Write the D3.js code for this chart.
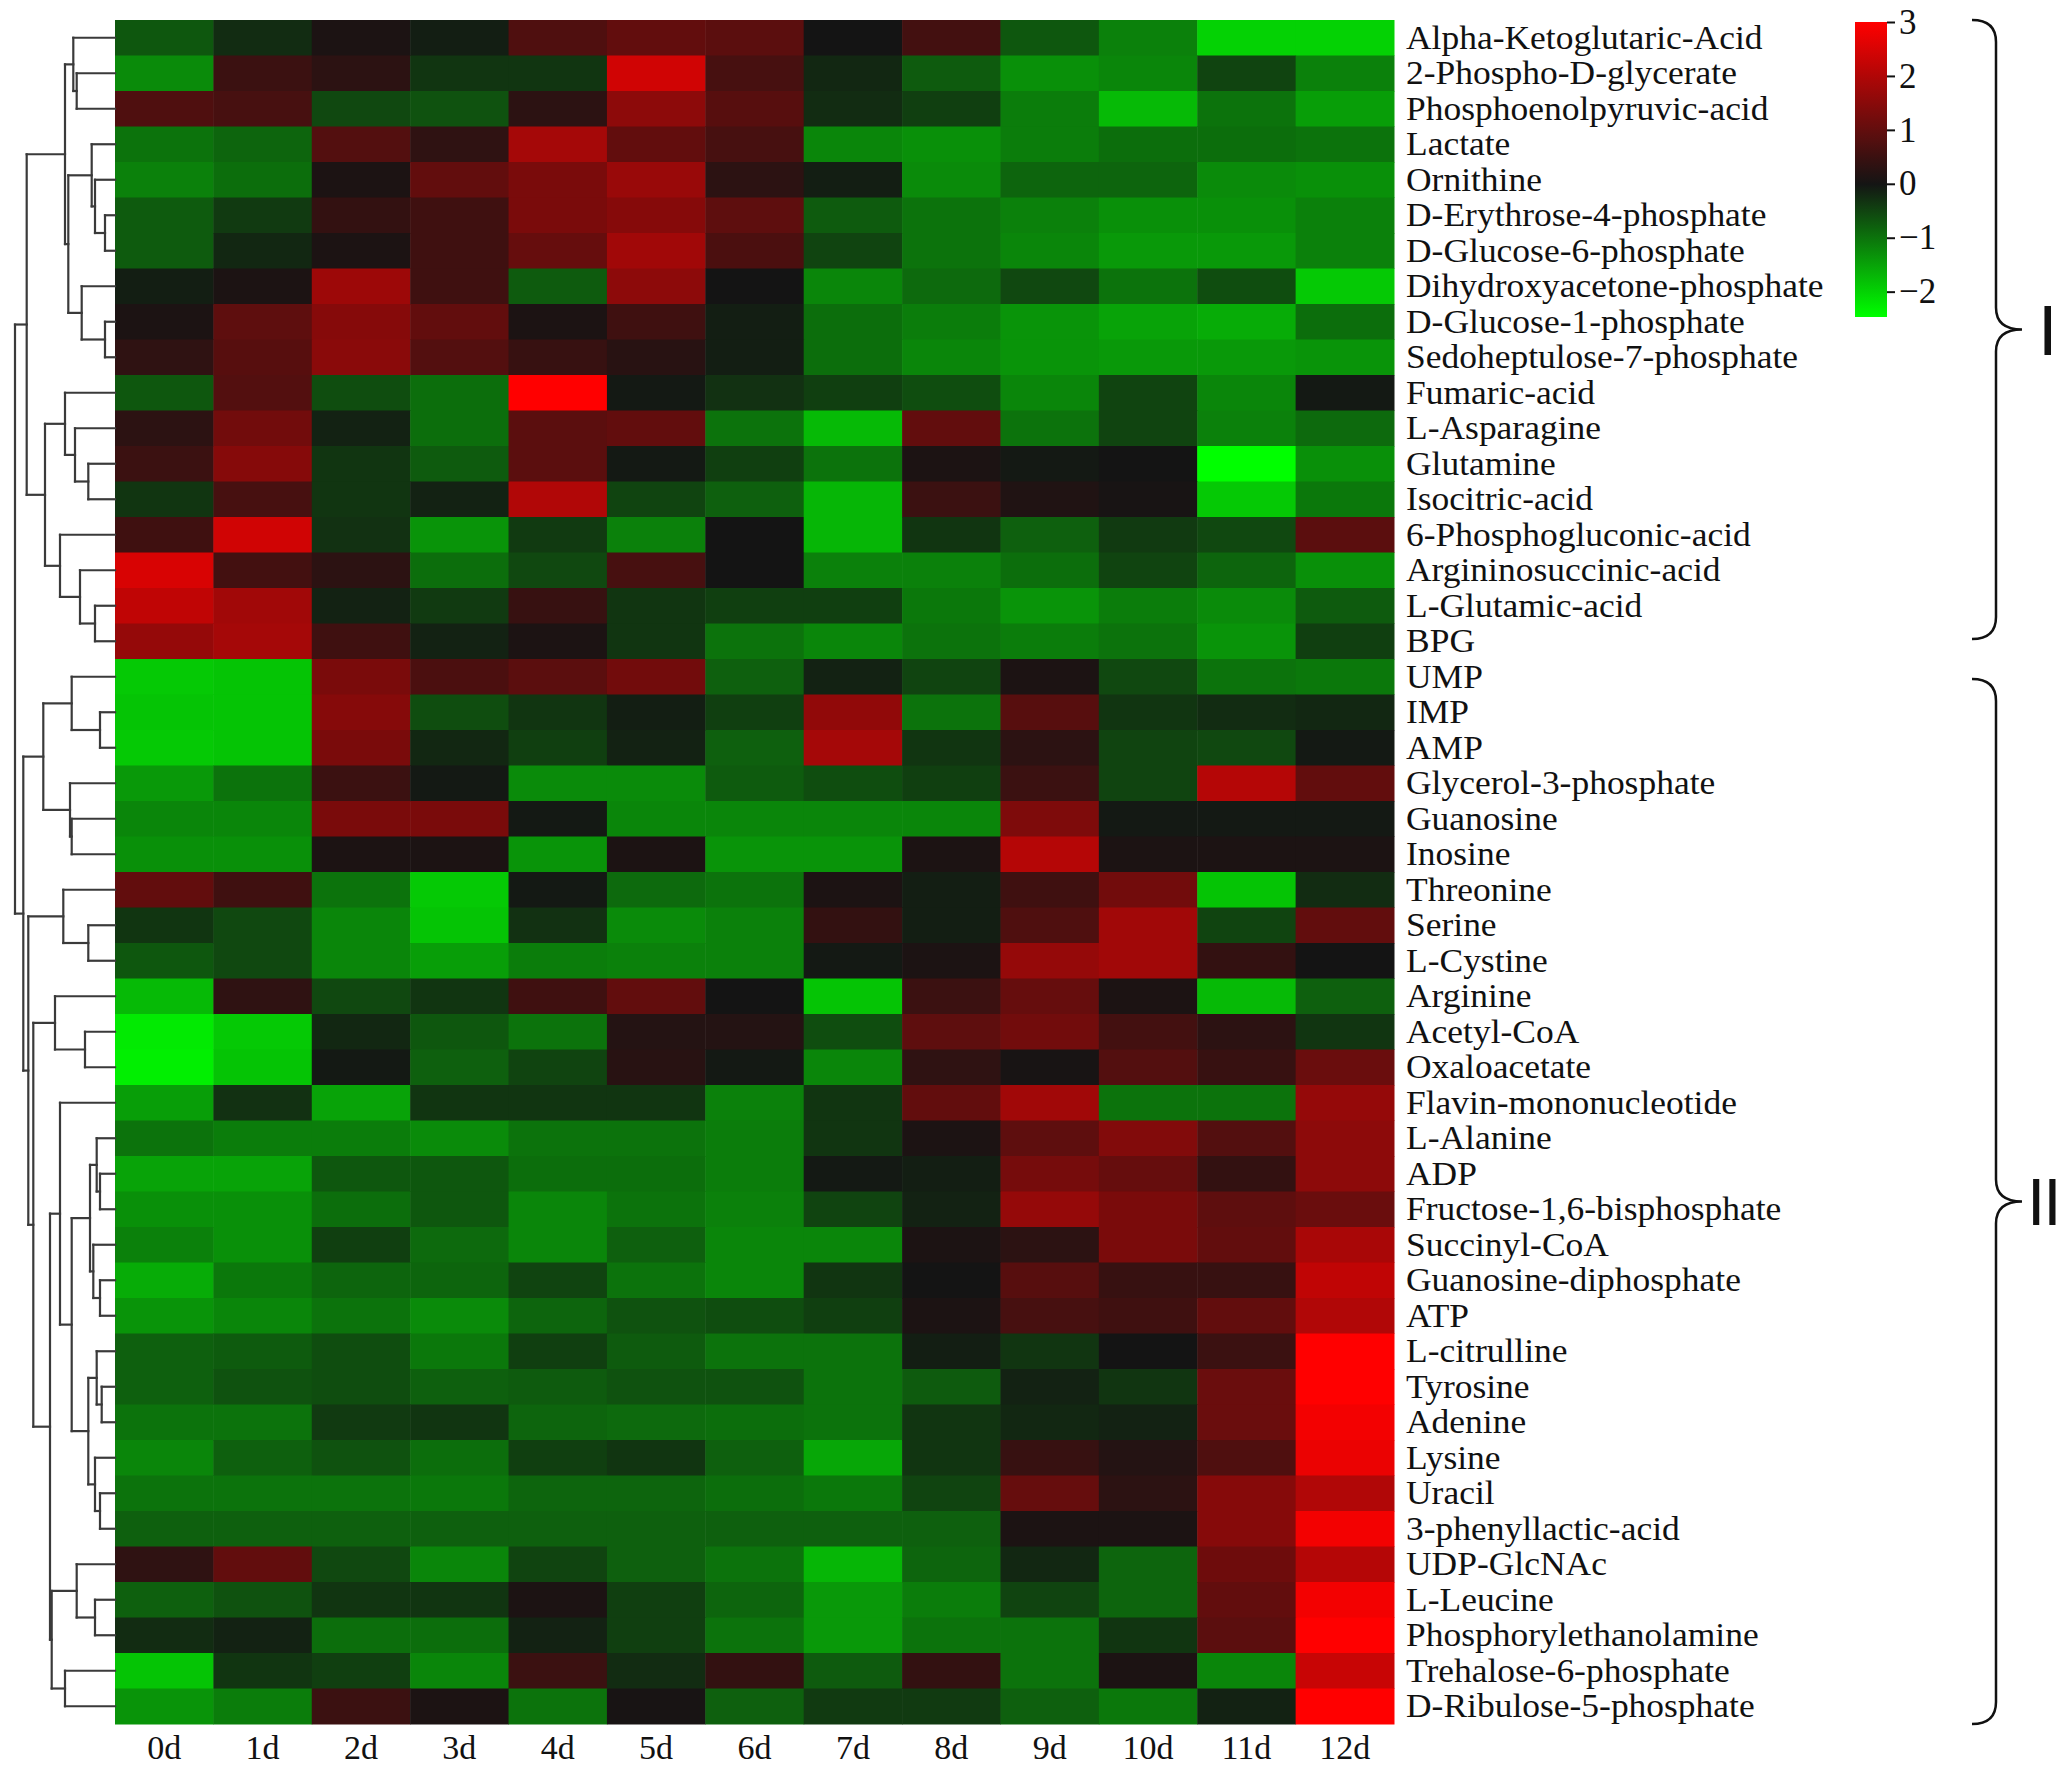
<!DOCTYPE html>
<html><head><meta charset="utf-8">
<script src="https://cdn.jsdelivr.net/npm/d3@7/dist/d3.min.js"></script>
<style>
html,body{margin:0;padding:0;background:#fff;}
svg{display:block;}
</style></head>
<body>
<svg id="chart" width="2067" height="1765"></svg>
<script>
const rowNames = ["Alpha-Ketoglutaric-Acid","2-Phospho-D-glycerate","Phosphoenolpyruvic-acid","Lactate","Ornithine","D-Erythrose-4-phosphate","D-Glucose-6-phosphate","Dihydroxyacetone-phosphate","D-Glucose-1-phosphate","Sedoheptulose-7-phosphate","Fumaric-acid","L-Asparagine","Glutamine","Isocitric-acid","6-Phosphogluconic-acid","Argininosuccinic-acid","L-Glutamic-acid","BPG","UMP","IMP","AMP","Glycerol-3-phosphate","Guanosine","Inosine","Threonine","Serine","L-Cystine","Arginine","Acetyl-CoA","Oxaloacetate","Flavin-mononucleotide","L-Alanine","ADP","Fructose-1,6-bisphosphate","Succinyl-CoA","Guanosine-diphosphate","ATP","L-citrulline","Tyrosine","Adenine","Lysine","Uracil","3-phenyllactic-acid","UDP-GlcNAc","L-Leucine","Phosphorylethanolamine","Trehalose-6-phosphate","D-Ribulose-5-phosphate"];
const colNames = ["0d","1d","2d","3d","4d","5d","6d","7d","8d","9d","10d","11d","12d"];
const values = [
[-0.7,-0.25,0.1,-0.1,0.75,1.0,0.9,0,0.6,-0.7,-1.15,-2.0,-2.0],
[-1.25,0.5,0.3,-0.35,-0.35,2.4,0.65,-0.2,-0.75,-1.3,-1.2,-0.5,-1.15],
[0.75,0.65,-0.55,-0.65,0.3,1.55,0.85,-0.25,-0.45,-1.1,-1.75,-1.0,-1.45],
[-1.0,-0.85,0.8,0.35,1.85,1.0,0.65,-1.2,-1.3,-1.1,-0.95,-0.95,-1.0],
[-1.15,-0.95,0.1,1.0,1.3,1.7,0.3,-0.1,-1.25,-0.85,-0.85,-1.25,-1.3],
[-0.75,-0.4,0.4,0.55,1.3,1.45,0.95,-0.75,-1.0,-1.15,-1.3,-1.3,-1.15],
[-0.75,-0.2,0.1,0.55,1.05,1.8,0.7,-0.5,-1.0,-1.2,-1.4,-1.4,-1.15],
[-0.1,0.1,1.75,0.55,-0.75,1.55,0,-1.2,-0.9,-0.55,-1.0,-0.6,-1.9],
[0.1,0.95,1.45,1.0,0.1,0.55,-0.1,-0.95,-1.1,-1.35,-1.5,-1.6,-0.95],
[0.35,0.85,1.5,0.8,0.45,0.25,-0.1,-0.95,-1.2,-1.35,-1.4,-1.4,-1.35],
[-0.7,0.8,-0.6,-0.95,3.0,-0.05,-0.3,-0.45,-0.6,-1.2,-0.5,-1.2,-0.05],
[0.3,1.2,-0.15,-0.95,0.9,1.0,-1.0,-1.75,1.0,-1.0,-0.5,-1.15,-0.9],
[0.5,1.45,-0.35,-0.75,0.9,-0.05,-0.45,-1.0,0.1,-0.05,0.0,-2.47,-1.3],
[-0.35,0.65,-0.35,-0.15,2.0,-0.5,-0.8,-1.7,0.5,0.15,0.05,-1.9,-1.05],
[0.55,2.4,-0.3,-1.35,-0.4,-1.15,0,-1.7,-0.35,-0.8,-0.4,-0.55,0.9],
[2.5,0.6,0.3,-0.95,-0.55,0.65,0,-1.15,-1.15,-0.95,-0.5,-0.85,-1.3],
[2.2,1.8,-0.15,-0.4,0.45,-0.35,-0.45,-0.45,-1.05,-1.35,-1.1,-1.25,-0.75],
[1.65,1.85,0.55,-0.15,0.1,-0.35,-1.0,-1.2,-1.0,-1.1,-1.0,-1.35,-0.45],
[-1.9,-1.85,1.3,0.7,0.9,1.2,-0.8,-0.15,-0.5,0.1,-0.55,-1.0,-1.05],
[-1.85,-1.85,1.45,-0.6,-0.35,-0.1,-0.45,1.6,-1.0,0.85,-0.35,-0.25,-0.2],
[-1.9,-1.85,1.3,-0.2,-0.45,-0.15,-0.8,1.85,-0.35,0.3,-0.5,-0.55,-0.05],
[-1.4,-1.0,0.5,-0.05,-1.25,-1.25,-0.75,-0.6,-0.45,0.5,-0.5,2.05,1.0],
[-1.2,-1.2,1.3,1.3,-0.05,-1.2,-1.2,-1.2,-1.2,1.35,-0.05,-0.05,-0.05],
[-1.3,-1.3,0.1,0.1,-1.35,0.1,-1.35,-1.35,0.1,2.05,0.1,0.1,0.1],
[1.0,0.55,-1.0,-1.9,-0.05,-0.9,-1.0,0.1,-0.1,0.55,1.2,-1.85,-0.25],
[-0.35,-0.55,-1.2,-1.85,-0.3,-1.25,-1.15,0.4,-0.1,0.75,1.8,-0.5,1.0],
[-0.7,-0.55,-1.2,-1.45,-1.1,-1.15,-1.15,-0.05,0.1,1.65,1.8,0.4,0.0],
[-1.75,0.35,-0.55,-0.35,0.55,1.0,0,-1.85,0.5,1.05,0.1,-1.75,-0.8],
[-2.25,-1.9,-0.2,-0.7,-1.0,0.2,0.2,-0.6,0.95,1.2,0.6,0.3,-0.35],
[-2.3,-1.85,-0.05,-0.8,-0.5,0.25,-0.05,-1.2,0.35,0.05,0.8,0.45,1.1],
[-1.45,-0.3,-1.5,-0.35,-0.35,-0.35,-1.15,-0.35,1.0,1.8,-1.0,-1.0,1.65],
[-1.0,-1.1,-1.1,-1.25,-1.0,-1.0,-1.1,-0.35,0.1,0.95,1.4,0.8,1.55],
[-1.5,-1.5,-0.7,-0.7,-0.95,-0.95,-1.1,-0.05,-0.1,1.25,1.05,0.4,1.55],
[-1.3,-1.3,-0.95,-0.7,-1.2,-1.0,-1.15,-0.5,-0.15,1.65,1.3,0.95,1.1],
[-1.15,-1.3,-0.45,-0.9,-1.2,-0.8,-1.2,-1.2,0.1,0.3,1.3,1.0,1.9],
[-1.6,-1.05,-0.85,-0.85,-0.5,-1.0,-1.2,-0.35,0,0.85,0.45,0.45,2.2],
[-1.35,-1.2,-1.0,-1.25,-0.85,-0.65,-0.6,-0.45,0.1,0.65,0.55,1.0,2.0],
[-0.8,-0.75,-0.6,-1.05,-0.45,-0.75,-1.0,-1.0,-0.1,-0.35,0,0.5,3.0],
[-0.8,-0.65,-0.6,-0.8,-0.75,-0.65,-0.65,-1.0,-0.75,-0.15,-0.35,1.1,3.0],
[-1.0,-1.0,-0.4,-0.35,-0.85,-0.9,-0.95,-1.0,-0.35,-0.2,-0.15,1.1,2.85],
[-1.2,-0.8,-0.65,-0.95,-0.45,-0.35,-0.8,-1.55,-0.35,0.45,0.2,0.75,2.75],
[-1.0,-1.0,-1.0,-1.05,-0.85,-0.85,-0.95,-1.05,-0.5,1.05,0.3,1.45,2.0],
[-0.8,-0.8,-0.8,-0.8,-0.8,-0.8,-0.8,-0.8,-0.8,0.1,0.1,1.45,2.85],
[0.35,1.0,-0.55,-1.2,-0.5,-0.8,-1.0,-1.7,-0.85,-0.2,-0.85,1.15,2.05],
[-0.8,-0.65,-0.35,-0.35,0.1,-0.45,-0.85,-1.4,-1.1,-0.5,-0.85,1.0,2.85],
[-0.25,-0.15,-0.95,-0.95,-0.15,-0.45,-1.0,-1.4,-1.0,-1.0,-0.35,0.9,3.0],
[-1.85,-0.35,-0.45,-1.2,0.5,-0.25,0.4,-0.75,0.4,-1.0,0.1,-1.2,2.3],
[-1.35,-1.1,0.5,0.1,-1.0,0.05,-0.8,-0.4,-0.4,-0.8,-1.05,-0.15,3.0]
];
// dendrogram: [height, left, right]; leaves are row indices
const clusterI = [88.3,
  [50, [41.7, 0, [38.3, 1, 2]], [46.7, [23.3, 3, [20, 4, [10, 5, 6]]], [33.3, 7, [10, 8, 9]]]],
  [70, [50, 10, [40, 11, [26.7, 12, 13]]], [55, 14, [35, 15, [20, 16, 17]]]]];
const clusterII = [91.7,
  [71.7, [43.3, 18, [15, 19, 20]], [45, 21, [43.3, 22, 23]]],
  [86.7, [51.7, 24, [26.7, 25, 26]],
    [81.7, [60, 27, [30, 28, 29]],
      [65, [55, 30, [43.3, [25, [18.3, 31, [15, 32, 33]], [21.7, 34, [15, 35, 36]]],
                           [26.7, [18.3, 37, [13.3, 38, 39]], [20, 40, [15, 41, 42]]]]],
           [63.3, [38.3, 43, [20, 44, 45]], [50, 46, 47]]]]]];
const tree = [100, clusterI, clusterII];
const legendTicks = [3, 2, 1, 0, -1, -2];
const groups = [{label: "I", first: 0, last: 17}, {label: "II", first: 18, last: 47}];

const svg = d3.select("#chart");
const hmLeft = 115, hmRight = 1394, hmTop = 20, hmBottom = 1724;
const serif = "'Liberation Serif','Times New Roman',serif";

const x = d3.scaleBand().domain(colNames).range([hmLeft, hmRight]);
const y = d3.scaleBand().domain(rowNames).range([hmTop, hmBottom]);
const color = d3.scaleLinear().domain([-2.47, 0, 3]).range(["#00ff00", "#141414", "#ff0000"]).clamp(true);

// heatmap cells
const cells = [];
values.forEach((row, i) => row.forEach((v, j) => cells.push({r: rowNames[i], c: colNames[j], v})));
svg.append("g").selectAll("rect").data(cells).join("rect")
  .attr("x", d => x(d.c)).attr("y", d => y(d.r))
  .attr("width", x.bandwidth() + 0.5).attr("height", y.bandwidth() + 0.5)
  .attr("fill", d => color(d.v));

// row labels (slightly widened glyphs, as in the reference's Times face)
svg.append("g").selectAll("text").data(rowNames).join("text")
  .attr("transform", d => `translate(${hmRight + 12},${y(d) + y.bandwidth() / 2}) scale(1.075,1)`)
  .attr("dy", "0.33em")
  .attr("font-family", serif).attr("font-size", 33).attr("fill", "#111")
  .text(d => d);

// column labels
svg.append("g").selectAll("text").data(colNames).join("text")
  .attr("x", d => x(d) + x.bandwidth() / 2).attr("y", 1748).attr("dy", "0.33em")
  .attr("text-anchor", "middle")
  .attr("font-family", serif).attr("font-size", 34).attr("fill", "#111")
  .text(d => d);

// dendrogram
const root = d3.hierarchy(tree, d => Array.isArray(d) ? d.slice(1) : null);
const hx = d3.scaleLinear().domain([0, 100]).range([hmLeft, 15]);
root.eachAfter(n => {
  if (n.children) {
    n.px = hx(n.data[0]);
    n.py = d3.mean(n.children, c => c.py);
  } else {
    n.px = hmLeft;
    n.py = y(rowNames[n.data]) + y.bandwidth() / 2;
  }
});
const segs = [];
root.each(n => {
  if (n.children) {
    const ys = n.children.map(c => c.py);
    segs.push([[n.px, d3.min(ys)], [n.px, d3.max(ys)]]);
    n.children.forEach(c => segs.push([[n.px, c.py], [c.px, c.py]]));
  }
});
svg.append("g").selectAll("path").data(segs).join("path")
  .attr("d", d => d3.line()(d))
  .attr("stroke", "#3a3a3a").attr("stroke-width", 2.2).attr("fill", "none")
  .attr("stroke-linecap", "square");

// legend
const lg = svg.append("defs").append("linearGradient").attr("id", "lg")
  .attr("x1", 0).attr("y1", 1).attr("x2", 0).attr("y2", 0);
const ls = d3.scaleLinear().domain([-2.47, 3]).range([317, 22]);
d3.range(0, 1.0001, 0.05).forEach(t => {
  const v = -2.47 + t * 5.47;
  lg.append("stop").attr("offset", t).attr("stop-color", color(v));
});
svg.append("rect").attr("x", 1855).attr("y", 22).attr("width", 32).attr("height", 295)
  .attr("fill", "url(#lg)");
const lAxis = svg.append("g").attr("transform", "translate(1887,0)")
  .call(d3.axisRight(ls).tickValues(legendTicks).tickSize(8).tickPadding(4).tickFormat(d3.format("d")));
lAxis.select(".domain").remove();
lAxis.selectAll("line").attr("stroke", "#111").attr("stroke-width", 2);
lAxis.selectAll("text").attr("font-family", serif).attr("font-size", 35).attr("fill", "#111");

// braces
function bracePath(top, bottom, xl, xv, xt) {
  const mid = (top + bottom) / 2, r = 22;
  return `M${xl},${top} Q${xv},${top} ${xv},${top + r} L${xv},${mid - r} Q${xv},${mid} ${xt},${mid}` +
         ` Q${xv},${mid} ${xv},${mid + r} L${xv},${bottom - r} Q${xv},${bottom} ${xl},${bottom}`;
}
const gb = svg.append("g");
groups.forEach((g, i) => {
  const top = i === 0 ? y(rowNames[g.first]) : y(rowNames[g.first]) + 20;
  const bottom = i === 0 ? y(rowNames[g.last]) + y.bandwidth() - 20 : y(rowNames[g.last]) + y.bandwidth();
  gb.append("path").attr("d", bracePath(top, bottom, 1972, 1996, 2022))
    .attr("fill", "none").attr("stroke", "#111").attr("stroke-width", 2.5);
  gb.append("text").attr("x", i === 0 ? 2038 : 2027).attr("y", (top + bottom) / 2).attr("dy", "0.36em")
    .attr("font-family", "'Liberation Sans',Arial,sans-serif").attr("font-size", i === 0 ? 70 : 66)
    .attr("letter-spacing", i === 0 ? 0 : -2).attr("fill", "#111")
    .text(g.label);
});
</script>
</body></html>
